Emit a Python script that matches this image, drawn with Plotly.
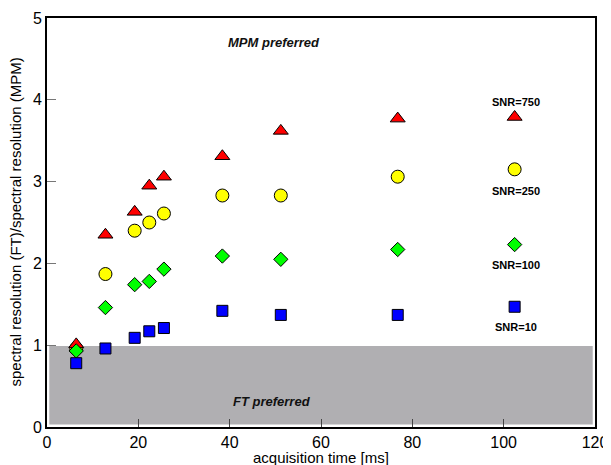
import plotly.graph_objects as go

acq_time = [6.4, 12.8, 19.2, 22.4, 25.6, 38.4, 51.2, 76.8, 102.4]
snr750 = [1.01, 2.35, 2.63, 2.95, 3.06, 3.31, 3.62, 3.77, 3.79]
snr250 = [0.96, 1.87, 2.40, 2.50, 2.61, 2.83, 2.83, 3.06, 3.15]
snr100 = [0.93, 1.46, 1.74, 1.78, 1.93, 2.09, 2.05, 2.17, 2.23]
snr10 = [0.78, 0.96, 1.09, 1.17, 1.21, 1.42, 1.37, 1.37, 1.47]

x_ticks = [0, 20, 40, 60, 80, 100, 120]
y_ticks = [0, 1, 2, 3, 4, 5]

labels = ["SNR=750", "SNR=250", "SNR=100", "SNR=10"]
label_y = [3.97, 2.88, 1.98, 1.22]
label_x = 102.6

ft_region = (0.0, 1.0)

FONT = "Liberation Sans, Arial, sans-serif"

fig = go.Figure()

fig.add_shape(type="rect", xref="x", yref="y", x0=0.5, x1=119.5,
              y0=ft_region[0] + 0.03, y1=ft_region[1] - 0.01,
              fillcolor="#b0afb2", line=dict(width=0), layer="below")

series = [
    (snr250, "circle", "#ffff00", 13),
    (snr750, "triangle-up", "#ff0000", 13),
    (snr100, "diamond", "#00ff00", 11),
    (snr10, "square", "#0000ff", 11),
]
for vals, sym, col, sz in series:
    fig.add_trace(go.Scatter(
        x=acq_time, y=vals, mode="markers",
        marker=dict(symbol=sym, color=col, size=sz,
                    line=dict(color="black", width=1)),
        showlegend=False, cliponaxis=False))

for lab, ly in zip(labels, label_y):
    fig.add_annotation(x=label_x, y=ly, text="<b>" + lab + "</b>",
                       showarrow=False, font=dict(family=FONT, size=11, color="black"))

fig.add_annotation(x=49.7, y=4.70, text="<b><i>MPM preferred</i></b>", showarrow=False,
                   font=dict(family=FONT, size=13, color="#111111"))
fig.add_annotation(x=49.3, y=0.31, text="<b><i>FT preferred</i></b>", showarrow=False,
                   font=dict(family=FONT, size=13, color="#111111"))

# axis titles
fig.add_annotation(xref="paper", yref="paper", x=0.5, y=0, yshift=-30,
                   xanchor="center", yanchor="middle",
                   text="acquisition time [ms]", showarrow=False,
                   font=dict(family=FONT, size=15, color="black"))
fig.add_annotation(xref="paper", yref="paper", x=0, y=0.5, xshift=-32,
                   xanchor="center", yanchor="middle",
                   text="spectral resolution (FT)/spectral resolution (MPM)",
                   textangle=-90, showarrow=False,
                   font=dict(family=FONT, size=15, color="black"))

fig.update_layout(
    width=603, height=457,
    margin=dict(l=39, r=16, t=10, b=38),
    paper_bgcolor="white", plot_bgcolor="white",
    font=dict(family=FONT, size=16, color="black"),
    xaxis=dict(range=[0, 120], tickvals=x_ticks, ticks="inside", ticklen=8,
               tickcolor="#444444", tickwidth=1, showgrid=False, zeroline=False,
               showline=True, linecolor="black", linewidth=2, mirror=True,
               tickfont=dict(size=16), automargin=False, ticklabeloverflow="allow"),
    yaxis=dict(range=[0, 5], tickvals=y_ticks, ticks="inside", ticklen=9,
               tickcolor="#777777", tickwidth=1, showgrid=False, zeroline=False,
               showline=True, linecolor="black", linewidth=2, mirror=True,
               tickfont=dict(size=16), automargin=False, ticklabeloverflow="allow"),
)

fig.write_html("out.html")
